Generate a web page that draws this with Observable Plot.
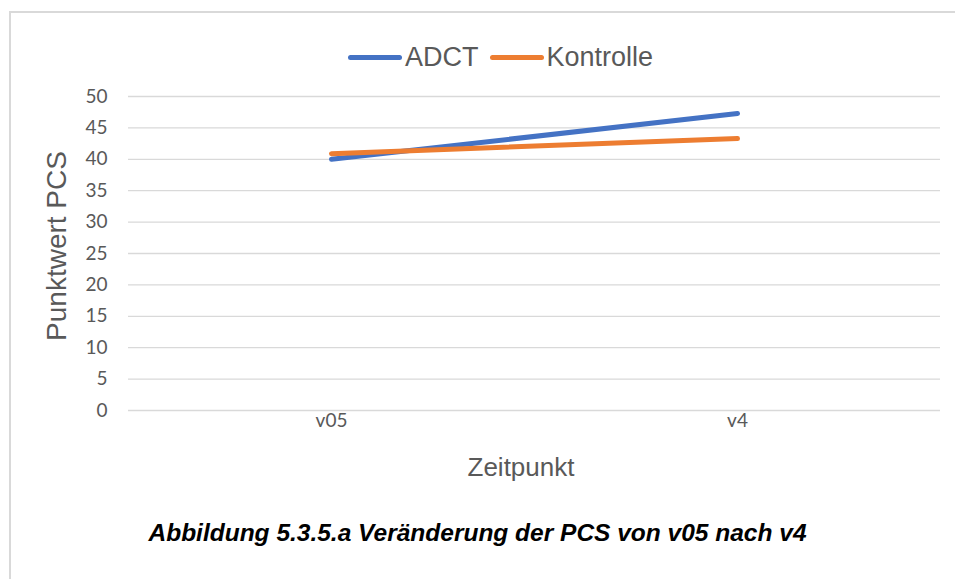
<!DOCTYPE html>
<html>
<head>
<meta charset="utf-8">
<script src="https://cdn.jsdelivr.net/npm/d3@7"></script>
<script src="https://cdn.jsdelivr.net/npm/@observablehq/plot@0.6"></script>
<style>
  html, body { margin: 0; padding: 0; background: #fff; }
  #page { position: relative; width: 955px; height: 579px; overflow: hidden; font-family: "Liberation Sans", Arial, sans-serif; }
  #frame { position: absolute; left: 9px; top: 11px; width: 960px; height: 600px; border-left: 2px solid #d9d9d9; border-top: 2px solid #d9d9d9; box-sizing: border-box; }
  #chart { position: absolute; left: 0; top: 0; }
  #legend { position: absolute; top: 41px; left: 348px; display: flex; gap: 11px; font-size: 27px; line-height: 32px; color: #595959; }
  .item { display: flex; align-items: center; }
  .sw { width: 54px; height: 5px; border-radius: 3px; margin-right: 3px; }
  .axt { position: absolute; font-size: 26px; line-height: 30px; color: #595959; white-space: nowrap; }
  #caption { position: absolute; top: 519px; left: 0; width: 955px; text-align: center; font-size: 24.5px; font-weight: bold; font-style: italic; color: #000; }
  #chart svg text { fill: #595959; font-size: 19px !important; }
</style>
</head>
<body>
<div id="page">
  <div id="frame"></div>
  <div id="chart"></div>
  <div id="legend"></div>
  <div class="axt" id="xlabel" style="left:0; width:1042px; text-align:center; top:452px;">Zeitpunkt</div>
  <div class="axt" id="ylabel" style="left:57px; top:246px; font-size:28px; transform: translate(-50%,-50%) rotate(-90deg);">Punktwert PCS</div>
  <div id="caption">Abbildung 5.3.5.a Veränderung der PCS von v05 nach v4</div>
</div>
<script>
const zeitpunkte = ["v05", "v4"];
const adct = [40.0, 47.3];
const kontrolle = [40.9, 43.3];
const seriesNames = ["ADCT", "Kontrolle"];
const seriesColors = ["#4472C4", "#ED7D31"];
const yTicks = [0, 5, 10, 15, 20, 25, 30, 35, 40, 45, 50];

const data = [];
zeitpunkte.forEach((z, i) => data.push({zeit: z, serie: "ADCT", wert: adct[i]}));
zeitpunkte.forEach((z, i) => data.push({zeit: z, serie: "Kontrolle", wert: kontrolle[i]}));

const plot = Plot.plot({
  width: 955,
  height: 480,
  marginLeft: 128,
  marginRight: 15,
  marginTop: 96,
  marginBottom: 70,
  style: { fontFamily: "Lato, 'Open Sans', sans-serif", fontSize: "19px", color: "#595959", background: "transparent" },
  x: { type: "point", domain: zeitpunkte, padding: 0.5, label: null, tickSize: 0, tickPadding: 3 },
  y: { domain: [0, 50], ticks: yTicks, label: null, tickSize: 0, tickPadding: 21 },
  color: { domain: seriesNames, range: seriesColors },
  marks: [
    Plot.ruleY(yTicks, { stroke: "#d9d9d9", strokeWidth: 1.3 }),
    Plot.line(data, { x: "zeit", y: "wert", z: "serie", stroke: "serie", strokeWidth: 5, strokeLinecap: "round", strokeLinejoin: "round" })
  ]
});
document.getElementById("chart").appendChild(plot);

const legend = document.getElementById("legend");
seriesNames.forEach((n, i) => {
  const item = document.createElement("div");
  item.className = "item";
  const sw = document.createElement("div");
  sw.className = "sw";
  sw.style.background = seriesColors[i];
  const tx = document.createElement("span");
  tx.textContent = n;
  item.appendChild(sw); item.appendChild(tx);
  legend.appendChild(item);
});
</script>
</body>
</html>
